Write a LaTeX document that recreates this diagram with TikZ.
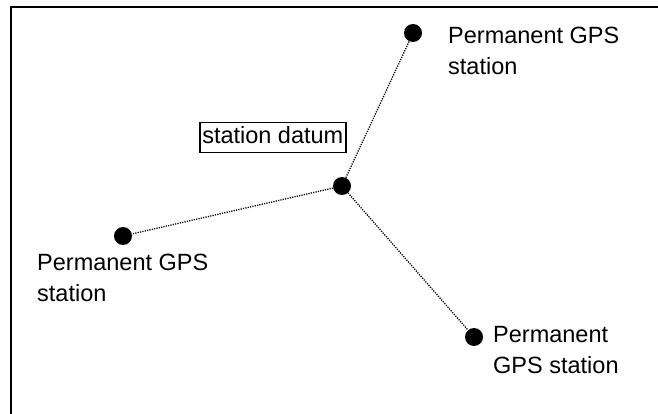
\documentclass[tikz,border=0pt]{standalone}
\usepackage{fontspec}
\setmainfont{Liberation Sans}
\begin{document}
\begin{tikzpicture}[x=1pt,y=-1pt,
  station/.style={circle,fill=black,inner sep=0pt,minimum size=18pt},
  link/.style={line width=1.3pt,dash pattern=on 1.2pt off 1.2pt},
  label/.style={inner sep=0pt,anchor=base west,align=left,
    font=\fontsize{23.5}{31}\selectfont},
  frameline/.style={line width=2pt}]
  \useasboundingbox (0,0) rectangle (658,414);

  % open frame: top and left edges
  \draw[frameline] (658,7) -- (11,7) -- (11,414);

  % stations
  \node[station] (datum) at (342,186) {};
  \node[station] (north) at (413,33) {};
  \node[station] (west)  at (123,236) {};
  \node[station] (south) at (474,337) {};

  % dotted baselines from the datum station
  \draw[link] (datum) -- (north);
  \draw[link] (datum) -- (west);
  \draw[link] (datum) -- (south);

  % labels (anchored at the baseline of their last line)
  \node[label] (northlabel) at (448,75) {Permanent GPS\\station};
  \begin{scope}
    \clip (0,0) rectangle (658,302);
    \node[label] (westlabel) at (37,301) {Permanent GPS\\station};
  \end{scope}
  \node[label] (southlabel) at (493,373) {Permanent\\GPS station};

  \node[draw,line width=1.5pt,anchor=base west,inner xsep=2.5pt,inner ysep=0pt,
        text height=20.8pt,text depth=9.2pt,
        font=\fontsize{23.5}{31}\selectfont] (datumlabel) at (199,143.3) {station datum};
\end{tikzpicture}
\end{document}
